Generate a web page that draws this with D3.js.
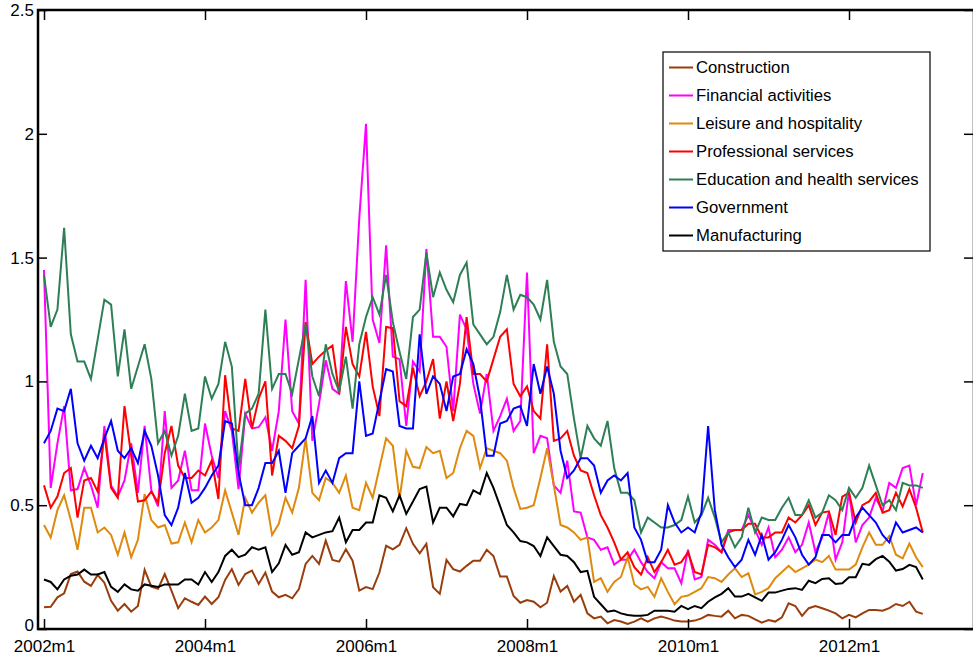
<!DOCTYPE html>
<html>
<head>
<meta charset="utf-8">
<script src="https://cdn.jsdelivr.net/npm/d3@7"></script>
<style>
  body { margin: 0; background: #fff; }
  svg { display: block; font-family: "Liberation Sans", Arial, sans-serif; }
</style>
</head>
<body>
<svg id="chart" width="973" height="660"></svg>
<script>
// monthly series, 2002m1 .. 2012m12 (132 obs each)
const tickIdx = [0, 24, 48, 72, 96, 120];
const tickLabels = ["2002m1", "2004m1", "2006m1", "2008m1", "2010m1", "2012m1"];
const yTicks = [0, 0.5, 1, 1.5, 2, 2.5];

const seriesNames = ["Construction", "Financial activities", "Leisure and hospitality",
  "Professional services", "Education and health services", "Government", "Manufacturing"];
const seriesColors = ["#9a3d0c", "#ff00ff", "#df8a0e", "#ff0000", "#2e7f56", "#0000ff", "#000000"];

const construction = [0.088,0.09,0.128,0.144,0.222,0.232,0.191,0.174,0.218,0.187,0.114,0.074,
  0.101,0.07,0.093,0.239,0.171,0.162,0.222,0.155,0.084,0.124,0.11,0.097,
  0.131,0.101,0.128,0.198,0.242,0.178,0.222,0.236,0.182,0.228,0.151,0.128,
  0.138,0.124,0.161,0.263,0.295,0.263,0.357,0.279,0.272,0.322,0.276,0.155,
  0.169,0.161,0.228,0.336,0.322,0.34,0.407,0.344,0.306,0.344,0.169,0.142,
  0.279,0.242,0.232,0.255,0.276,0.276,0.32,0.295,0.212,0.212,0.133,0.106,
  0.117,0.11,0.088,0.106,0.214,0.151,0.174,0.11,0.138,0.063,0.043,0.05,
  0.023,0.036,0.03,0.02,0.03,0.043,0.03,0.043,0.05,0.043,0.034,0.03,
  0.03,0.034,0.043,0.057,0.053,0.05,0.074,0.043,0.057,0.053,0.039,0.026,
  0.036,0.03,0.047,0.104,0.093,0.053,0.084,0.093,0.084,0.074,0.063,0.043,
  0.057,0.047,0.063,0.077,0.077,0.074,0.084,0.101,0.093,0.11,0.07,0.061];

const financial = [1.45,0.57,0.75,0.90,0.56,0.565,0.65,0.58,0.49,0.82,0.58,0.535,
  0.60,0.75,0.55,0.82,0.56,0.495,0.88,0.57,0.60,0.72,0.56,0.56,
  0.83,0.70,0.61,0.88,0.80,0.565,0.87,0.81,0.815,0.855,0.72,0.88,
  1.25,0.88,0.83,1.41,0.76,0.91,1.085,0.97,0.95,1.405,1.16,1.66,
  2.04,1.25,1.155,1.55,1.10,1.09,0.82,1.08,1.04,1.535,1.18,1.18,
  1.14,0.88,1.27,1.21,0.99,0.87,1.03,0.80,0.86,0.93,0.80,0.84,
  1.44,0.71,0.78,0.77,0.58,0.55,0.68,0.475,0.47,0.37,0.36,0.32,
  0.33,0.26,0.28,0.28,0.32,0.27,0.23,0.205,0.27,0.245,0.245,0.185,
  0.32,0.20,0.21,0.36,0.34,0.31,0.40,0.40,0.40,0.46,0.40,0.34,
  0.41,0.29,0.32,0.37,0.31,0.34,0.43,0.31,0.37,0.47,0.28,0.35,
  0.555,0.35,0.42,0.45,0.53,0.475,0.59,0.57,0.65,0.66,0.50,0.63];

const leisure = [0.42,0.37,0.48,0.54,0.44,0.32,0.49,0.49,0.39,0.41,0.38,0.30,
  0.39,0.29,0.36,0.545,0.44,0.41,0.42,0.345,0.35,0.43,0.35,0.44,
  0.39,0.41,0.44,0.56,0.47,0.38,0.53,0.47,0.51,0.54,0.38,0.425,
  0.53,0.47,0.57,0.77,0.55,0.52,0.61,0.59,0.55,0.62,0.49,0.48,
  0.59,0.53,0.65,0.77,0.74,0.525,0.72,0.655,0.65,0.735,0.71,0.72,
  0.61,0.63,0.73,0.80,0.78,0.65,0.73,0.72,0.71,0.68,0.57,0.485,
  0.49,0.50,0.61,0.73,0.58,0.42,0.41,0.39,0.36,0.37,0.19,0.205,
  0.15,0.19,0.21,0.29,0.18,0.16,0.17,0.13,0.205,0.15,0.10,0.13,
  0.135,0.15,0.165,0.21,0.205,0.19,0.22,0.245,0.21,0.225,0.14,0.15,
  0.165,0.205,0.23,0.255,0.23,0.245,0.26,0.28,0.27,0.295,0.24,0.24,
  0.24,0.26,0.33,0.39,0.34,0.34,0.375,0.30,0.285,0.345,0.29,0.25];

const professional = [0.58,0.49,0.535,0.63,0.65,0.45,0.60,0.61,0.555,0.79,0.57,0.53,
  0.90,0.70,0.515,0.52,0.555,0.51,0.71,0.82,0.66,0.61,0.61,0.64,
  0.62,0.68,0.525,1.025,0.81,0.80,1.01,0.81,0.93,1.00,0.62,0.78,
  0.76,0.73,0.82,1.24,1.07,1.10,1.125,1.145,0.95,1.22,1.07,1.02,
  1.20,0.98,0.86,1.22,1.215,0.92,0.90,1.055,0.94,1.00,1.09,0.85,
  1.00,0.84,0.99,1.26,1.03,1.03,1.00,1.09,1.18,1.21,0.99,0.94,
  0.98,0.88,0.85,1.15,0.76,0.77,0.80,0.70,0.64,0.63,0.54,0.46,
  0.41,0.35,0.28,0.31,0.25,0.22,0.29,0.23,0.27,0.32,0.26,0.27,
  0.31,0.23,0.22,0.34,0.33,0.31,0.39,0.40,0.40,0.425,0.425,0.37,
  0.37,0.39,0.39,0.45,0.43,0.46,0.50,0.42,0.47,0.475,0.38,0.535,
  0.55,0.43,0.50,0.515,0.55,0.47,0.48,0.55,0.495,0.565,0.49,0.39];

const education = [1.43,1.22,1.29,1.62,1.19,1.08,1.08,1.01,1.17,1.33,1.31,1.02,
  1.21,0.97,1.06,1.15,1.01,0.75,0.80,0.70,0.78,0.95,0.80,0.81,
  1.02,0.93,0.99,1.16,1.06,0.65,0.87,0.89,0.95,1.29,0.97,1.03,
  1.03,0.95,1.09,1.23,1.02,0.94,1.15,1.03,0.96,1.10,0.89,1.15,
  1.26,1.34,1.27,1.43,1.24,1.12,1.01,1.26,1.29,1.52,1.34,1.44,
  1.37,1.32,1.43,1.48,1.23,1.19,1.15,1.18,1.28,1.43,1.29,1.35,
  1.34,1.31,1.25,1.41,1.16,1.06,1.03,0.85,0.69,0.82,0.77,0.74,
  0.84,0.65,0.55,0.55,0.52,0.39,0.45,0.43,0.41,0.41,0.42,0.44,
  0.535,0.43,0.46,0.53,0.45,0.35,0.39,0.33,0.37,0.49,0.39,0.45,
  0.44,0.44,0.49,0.53,0.46,0.46,0.52,0.45,0.47,0.54,0.52,0.48,
  0.57,0.53,0.57,0.66,0.58,0.50,0.52,0.48,0.59,0.58,0.58,0.57];

const government = [0.75,0.80,0.89,0.88,0.97,0.75,0.68,0.74,0.69,0.77,0.84,0.72,
  0.69,0.73,0.67,0.80,0.74,0.62,0.46,0.42,0.49,0.63,0.51,0.53,
  0.57,0.62,0.66,0.84,0.83,0.63,0.50,0.50,0.57,0.67,0.67,0.72,
  0.55,0.71,0.74,0.77,0.86,0.59,0.64,0.59,0.69,0.71,0.71,1.00,
  0.78,0.79,0.92,1.05,1.04,0.82,0.81,0.81,1.19,0.95,1.02,0.99,
  0.88,1.02,1.03,1.13,1.07,0.93,0.70,0.70,0.83,0.84,0.89,0.90,
  0.82,1.07,0.95,1.06,0.95,0.72,0.61,0.64,0.69,0.69,0.66,0.55,
  0.60,0.62,0.60,0.63,0.41,0.36,0.27,0.27,0.32,0.50,0.43,0.39,
  0.41,0.39,0.47,0.82,0.48,0.34,0.29,0.25,0.28,0.36,0.30,0.38,
  0.28,0.31,0.36,0.42,0.37,0.30,0.26,0.29,0.38,0.38,0.35,0.38,
  0.38,0.45,0.49,0.46,0.43,0.38,0.35,0.43,0.39,0.40,0.41,0.39];

const manufacturing = [0.20,0.19,0.16,0.20,0.215,0.22,0.24,0.22,0.22,0.23,0.17,0.15,
  0.18,0.16,0.155,0.18,0.175,0.17,0.18,0.18,0.18,0.20,0.20,0.18,
  0.23,0.19,0.23,0.295,0.32,0.29,0.30,0.33,0.32,0.33,0.23,0.265,
  0.34,0.30,0.31,0.39,0.37,0.38,0.39,0.395,0.45,0.35,0.40,0.40,
  0.43,0.43,0.54,0.53,0.475,0.54,0.465,0.515,0.565,0.575,0.43,0.49,
  0.49,0.455,0.505,0.50,0.56,0.545,0.63,0.57,0.495,0.42,0.39,0.355,
  0.35,0.335,0.295,0.37,0.335,0.30,0.295,0.27,0.23,0.235,0.13,0.10,
  0.07,0.075,0.063,0.057,0.054,0.054,0.057,0.074,0.074,0.074,0.07,0.093,
  0.08,0.093,0.084,0.11,0.128,0.142,0.165,0.131,0.131,0.142,0.128,0.114,
  0.147,0.147,0.155,0.162,0.165,0.158,0.195,0.185,0.202,0.205,0.182,0.185,
  0.209,0.209,0.263,0.259,0.282,0.295,0.272,0.236,0.242,0.259,0.25,0.20];

const allSeries = [construction, financial, leisure, professional, education, government, manufacturing];

const svg = d3.select("#chart");
const W = 973, H = 660;
const frame = { left: 38, right: 974, top: 10, bottom: 629 };

const x = d3.scaleLinear().domain([0, 120]).range([44, 849]);
const y = d3.scaleLinear().domain([0, 2.5]).range([frame.bottom, frame.top]);

svg.append("rect").attr("width", W).attr("height", H).attr("fill", "#fff");

svg.append("clipPath").attr("id", "plotclip")
  .append("rect")
  .attr("x", frame.left).attr("y", frame.top)
  .attr("width", frame.right - frame.left).attr("height", frame.bottom - frame.top);

// lines
const line = d3.line()
  .x((d, i) => x(i))
  .y(d => y(d));

const plot = svg.append("g").attr("clip-path", "url(#plotclip)");
allSeries.forEach((s, k) => {
  plot.append("path")
    .datum(s)
    .attr("fill", "none")
    .attr("stroke", seriesColors[k])
    .attr("stroke-width", 2)
    .attr("stroke-linejoin", "miter")
    .attr("d", line);
});

// axes, MATLAB style: ticks pointing inward on all four sides
const fontSize = "17px";

const xBottom = d3.axisBottom(x)
  .tickValues(tickIdx)
  .tickFormat((d, i) => tickLabels[i])
  .tickSizeInner(-10).tickSizeOuter(0).tickPadding(11);
const gxb = svg.append("g").attr("transform", `translate(0,${frame.bottom})`).call(xBottom);
gxb.select(".domain").remove();
gxb.selectAll("text").attr("font-size", fontSize).attr("fill", "#000").attr("font-family", "Liberation Sans, Arial, sans-serif");
gxb.selectAll("line").attr("stroke", "#000").attr("stroke-width", 1.5);

const xTop = d3.axisTop(x).tickValues(tickIdx).tickFormat("").tickSizeInner(-10).tickSizeOuter(0);
const gxt = svg.append("g").attr("transform", `translate(0,${frame.top})`).call(xTop);
gxt.select(".domain").remove();
gxt.selectAll("line").attr("stroke", "#000").attr("stroke-width", 1.5);

const yLeft = d3.axisLeft(y)
  .tickValues(yTicks)
  .tickFormat(d3.format("~g"))
  .tickSizeInner(-9).tickSizeOuter(0).tickPadding(4);
const gyl = svg.append("g").attr("transform", `translate(${frame.left},0)`).call(yLeft);
gyl.select(".domain").remove();
gyl.selectAll("text").attr("font-size", fontSize).attr("fill", "#000").attr("font-family", "Liberation Sans, Arial, sans-serif");
gyl.selectAll("line").attr("stroke", "#000").attr("stroke-width", 1.5);
// the zero label sits a little higher so it clears the first date label
gyl.selectAll(".tick").filter(d => d === 0).select("text").attr("dy", "0.1em");

const yRight = d3.axisRight(y).tickValues(yTicks).tickFormat("").tickSizeInner(-9).tickSizeOuter(0);
const gyr = svg.append("g").attr("transform", `translate(${frame.right - 1},0)`).call(yRight);
gyr.select(".domain").remove();
gyr.selectAll("line").attr("stroke", "#000").attr("stroke-width", 1.5);

// box
svg.append("rect")
  .attr("x", frame.left).attr("y", frame.top)
  .attr("width", frame.right - frame.left).attr("height", frame.bottom - frame.top)
  .attr("fill", "none").attr("stroke", "#000").attr("stroke-width", 2.5);

// legend
const legend = svg.append("g").attr("transform", "translate(663,52)");
legend.append("rect")
  .attr("width", 267).attr("height", 199)
  .attr("fill", "#fff").attr("stroke", "#000").attr("stroke-width", 1.2);

seriesNames.forEach((name, k) => {
  const cy = 15.5 + k * 28;
  legend.append("line")
    .attr("x1", 6).attr("x2", 30).attr("y1", cy).attr("y2", cy)
    .attr("stroke", seriesColors[k]).attr("stroke-width", 2);
  legend.append("text")
    .attr("x", 33).attr("y", cy).attr("dy", "0.35em")
    .attr("font-size", "16.7px").attr("fill", "#000")
    .text(name);
});
</script>
</body>
</html>
